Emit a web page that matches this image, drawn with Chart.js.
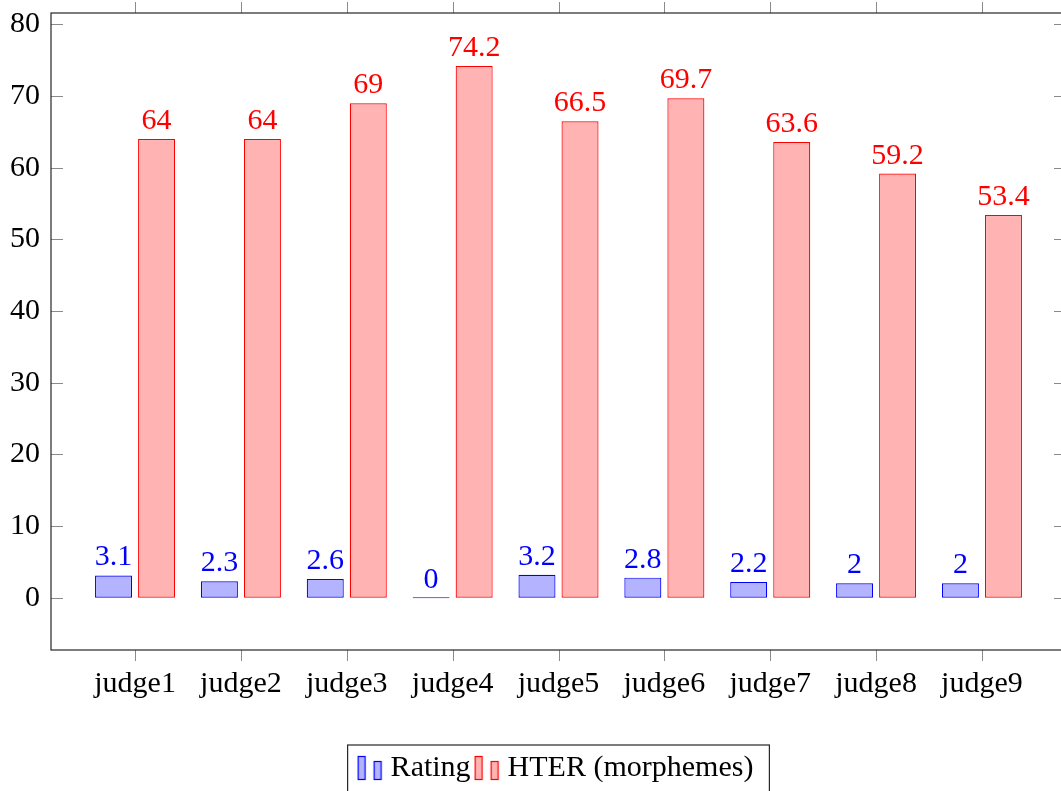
<!DOCTYPE html>
<html>
<head>
<meta charset="utf-8">
<script src="https://cdn.jsdelivr.net/npm/chart.js@4"></script>
<style>
  html, body { margin: 0; padding: 0; overflow: hidden; background: #fff; }
</style>
</head>
<body>
<canvas id="chart" width="1068" height="793"></canvas>
<script>
const judges = ['judge1', 'judge2', 'judge3', 'judge4', 'judge5', 'judge6', 'judge7', 'judge8', 'judge9'];
const rating = [3.1, 2.3, 2.6, 0, 3.2, 2.8, 2.2, 2, 2];
const hter = [64, 64, 69, 74.2, 66.5, 69.7, 63.6, 59.2, 53.4];
const yTicks = [0, 10, 20, 30, 40, 50, 60, 70, 80];

const FONT = { family: '"Liberation Serif"', size: 30 };

// little two-bar legend icon, like pgfplots' ybar legend
function barIcon(fill, stroke) {
  const c = document.createElement('canvas');
  c.width = 26; c.height = 26;
  const g = c.getContext('2d');
  g.fillStyle = fill; g.strokeStyle = stroke; g.lineWidth = 1.2;
  g.fillRect(1.5, 1.5, 7, 23); g.strokeRect(1.5, 1.5, 7, 23);
  g.fillRect(17.5, 6.5, 7, 18); g.strokeRect(17.5, 6.5, 7, 18);
  return c;
}

const frame = {
  id: 'frame',
  afterDatasetsDraw(chart) {
    const {ctx, chartArea: a, scales: {x, y}} = chart;
    ctx.save();
    ctx.strokeStyle = '#8a8a8a';
    ctx.lineWidth = 1;
    ctx.beginPath();
    x.ticks.forEach(t => {
      const px = Math.round(x.getPixelForValue(t.value)) + 0.5;
      ctx.moveTo(px, a.bottom); ctx.lineTo(px, a.bottom + 11);
      ctx.moveTo(px, a.top); ctx.lineTo(px, a.top - 11);
    });
    y.ticks.forEach(t => {
      const py = Math.round(y.getPixelForValue(t.value)) + 0.5;
      ctx.moveTo(a.left, py); ctx.lineTo(a.left + 12, py);
      ctx.moveTo(a.right, py); ctx.lineTo(a.right - 12, py);
    });
    ctx.stroke();

    ctx.strokeStyle = '#262626';
    ctx.lineWidth = 1.2;
    ctx.strokeRect(a.left, a.top, a.right - a.left, a.bottom - a.top);

    // values above the bars
    ctx.font = FONT.size + 'px ' + FONT.family;
    ctx.textAlign = 'center';
    ctx.textBaseline = 'alphabetic';
    chart.data.datasets.forEach((ds, i) => {
      ctx.fillStyle = ds.borderColor;
      chart.getDatasetMeta(i).data.forEach((bar, j) => {
        ctx.fillText(String(ds.data[j].y), bar.x, bar.y - 10);
      });
    });

    // frame round the legend
    const hb = chart.legend.legendHitBoxes;
    if (hb && hb.length) {
      const l = Math.min(...hb.map(h => h.left)) - 16;
      const r = Math.max(...hb.map(h => h.left + h.width)) + 16;
      const t = hb[0].top - 8;
      ctx.strokeStyle = '#262626';
      ctx.strokeRect(l, t, r - l, 60);
    }
    ctx.restore();
  }
};

new Chart(document.getElementById('chart'), {
  type: 'bar',
  data: {
    datasets: [
      {
        label: 'Rating',
        data: rating.map((v, i) => ({x: i, y: v})),
        backgroundColor: 'rgb(179, 179, 255)',
        borderColor: 'rgb(0, 0, 255)',
        borderWidth: 1.2,
        borderSkipped: false,
        minBarLength: 1,
        pointStyle: barIcon('rgb(179, 179, 255)', 'rgb(0, 0, 255)')
      },
      {
        label: 'HTER (morphemes)',
        data: hter.map((v, i) => ({x: i, y: v})),
        backgroundColor: 'rgb(255, 179, 179)',
        borderColor: 'rgb(255, 0, 0)',
        borderWidth: 1.2,
        borderSkipped: false,
        pointStyle: barIcon('rgb(255, 179, 179)', 'rgb(255, 0, 0)')
      }
    ]
  },
  options: {
    responsive: false,
    animation: false,
    barPercentage: 0.86,
    categoryPercentage: 0.813,
    layout: { padding: { top: 13, right: 2, left: 0, bottom: 0 } },
    font: FONT,
    plugins: {
      tooltip: { enabled: false },
      legend: {
        position: 'bottom',
        fullSize: false,
        labels: {
          usePointStyle: true,
          pointStyleWidth: 12,
          padding: 10,
          color: '#000',
          font: FONT
        }
      }
    },
    scales: {
      x: {
        type: 'linear',
        offset: false,
        min: -0.794,
        max: 8.794,
        grid: { display: false, drawTicks: false },
        border: { display: false },
        afterBuildTicks: s => { s.ticks = judges.map((_, i) => ({value: i})); },
        afterFit: s => { s.height = 93; s.paddingLeft = 0; s.paddingRight = 0; },
        ticks: {
          autoSkip: false,
          maxRotation: 0,
          padding: 16,
          color: '#000',
          font: FONT,
          callback: v => judges[v]
        }
      },
      y: {
        min: -7.3,
        max: 81.6,
        grid: { display: false, drawTicks: false },
        border: { display: false },
        afterBuildTicks: s => { s.ticks = yTicks.map(v => ({value: v})); },
        afterFit: s => { s.width = 51; s.paddingTop = 0; s.paddingBottom = 0; },
        ticks: {
          padding: 11,
          color: '#000',
          font: FONT
        }
      }
    }
  },
  plugins: [frame]
});
</script>
</body>
</html>
